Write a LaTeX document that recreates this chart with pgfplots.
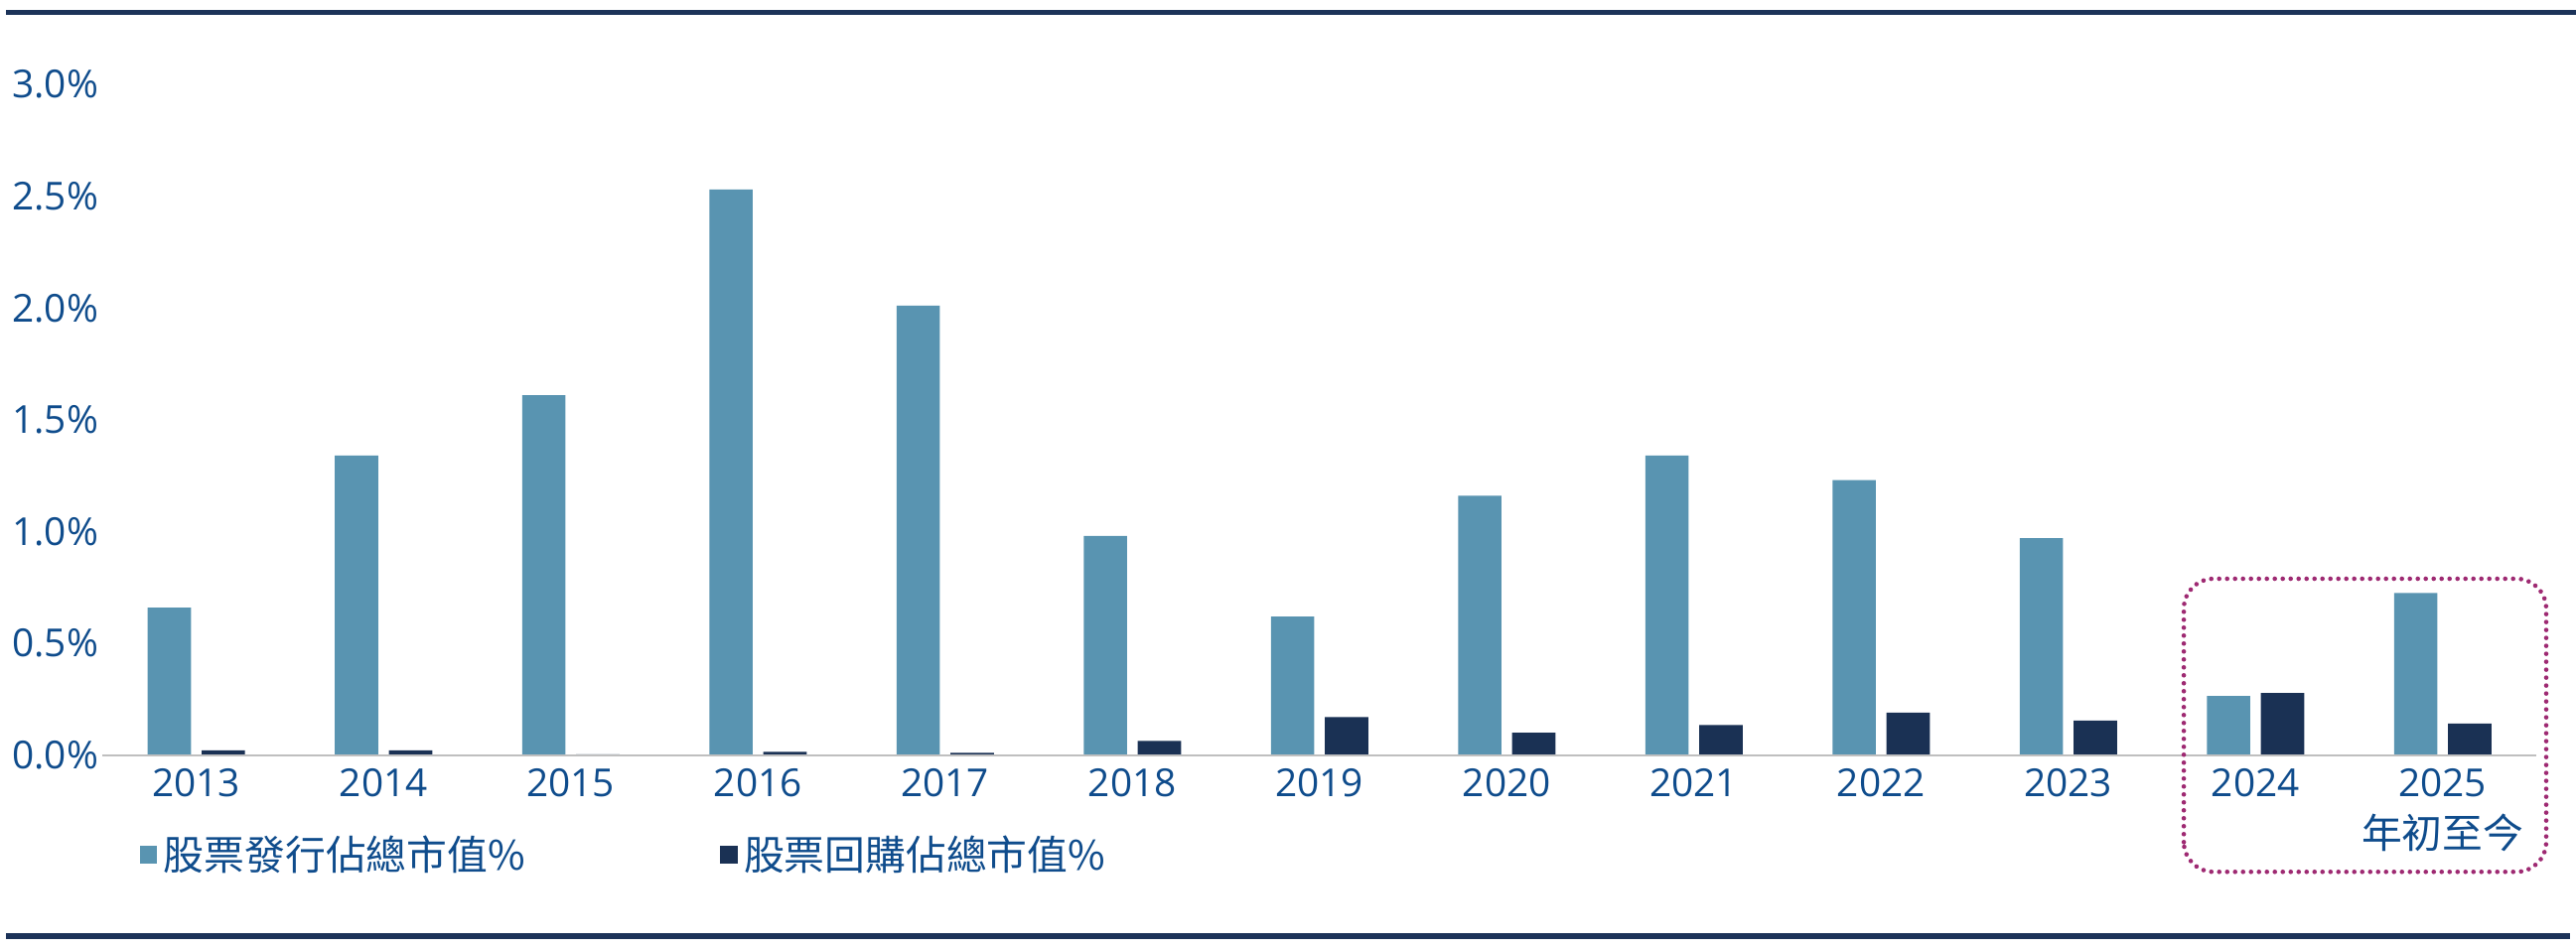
\documentclass[border=0pt]{standalone}
\usepackage{fontspec}
\setmainfont{Open Sans}
\newfontfamily\cjk{Noto Sans CJK TC}
\usepackage{pgfplots}
\pgfplotsset{compat=1.18}
\definecolor{lightbar}{HTML}{5994B1}
\definecolor{darkbar}{HTML}{1A3154}
\definecolor{txt}{HTML}{0F4C8C}
\definecolor{rulec}{HTML}{1C3359}
\definecolor{boxc}{HTML}{9E2A72}
\pgfplotsset{sq legend/.style={legend image code/.code={\fill[##1] (0pt,-1.9pt) rectangle (4.4pt,2.5pt);}}}
\begin{document}
\begin{tikzpicture}
\useasboundingbox (0,0) rectangle (648.5pt,239pt);
\draw[rulec, line width=1.2pt] (1.5pt,235.9pt) -- (648.5pt,235.9pt);
\draw[rulec, line width=1.3pt] (1.5pt,3.25pt) -- (647pt,3.25pt);
\begin{axis}[
  at={(25.875pt,48.825pt)}, anchor=south west,
  scale only axis, width=612.625pt, height=168.925pt,
  xmin=-0.5, xmax=12.5, ymin=0, ymax=3,
  ybar=2.7pt, bar width=10.9pt,
  axis line style={draw=none},
  major tick length=0pt,
  xtick={0,1,2,3,4,5,6,7,8,9,10,11,12},
  xticklabels={2013,2014,2015,2016,2017,2018,2019,2020,2021,2022,2023,2024,{2025\\{\cjk\fontsize{10.2}{13}\selectfont 年初至今}}},
  ytick={0,0.5,1,1.5,2,2.5,3},
  yticklabels={0.0\%,0.5\%,1.0\%,1.5\%,2.0\%,2.5\%,3.0\%},
  ticklabel style={font=\fontsize{9.7}{13}\selectfont, text=txt, inner sep=0pt},
  yticklabel style={anchor=east, xshift=-0.9pt},
  xticklabel style={anchor=north, align=center, yshift=-3.3pt},
  clip=false,
  legend columns=2,
  legend style={at={(rel axis cs:0.0149,-0.1499)}, anchor=west, draw=none, fill=none,
    inner sep=0pt, font=\cjk\fontsize{10.2}{13}\selectfont, text=txt, nodes={inner sep=0pt},
    /tikz/every odd column/.append style={column sep=1.65pt},
    /tikz/every even column/.append style={column sep=49pt}},
]
\addplot[fill=lightbar, draw=none, sq legend] coordinates {
(0,0.66) (1,1.34) (2,1.61) (3,2.53) (4,2.01) (5,0.98) (6,0.62) (7,1.16) (8,1.34) (9,1.23) (10,0.97) (11,0.265) (12,0.725)};
\addplot[fill=darkbar, draw=none, sq legend] coordinates {
(0,0.021) (1,0.021) (2,0.004) (3,0.015) (4,0.01) (5,0.064) (6,0.17) (7,0.10) (8,0.135) (9,0.19) (10,0.155) (11,0.278) (12,0.141)};
\legend{股票發行佔總市值\%, 股票回購佔總市值\%}
\draw[black!25, line width=0.45pt] (axis cs:-0.5,0) -- (axis cs:12.5,0);
\draw[boxc, line width=1.15pt, line cap=round, dash pattern=on 0pt off 2pt, rounded corners=7.5pt]
  (axis cs:10.617,-0.522) rectangle (axis cs:12.553,0.789);
\end{axis}
\end{tikzpicture}
\end{document}
